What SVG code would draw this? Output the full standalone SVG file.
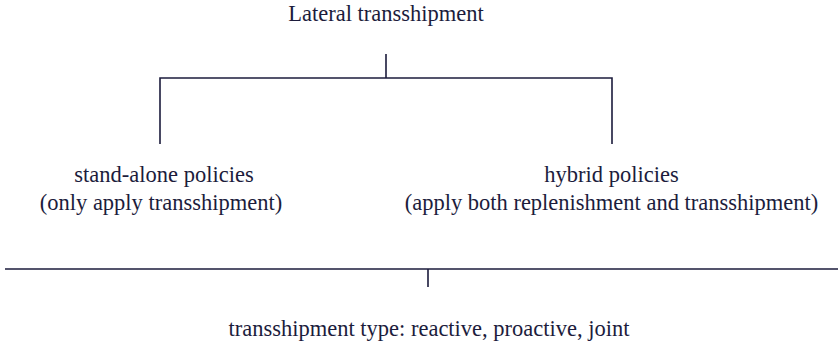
<svg xmlns="http://www.w3.org/2000/svg" width="838" height="347" viewBox="0 0 838 347">
<style>
text{font-family:"Liberation Serif","DejaVu Serif",serif;font-size:22.5px;fill:#1c1c3c;text-anchor:middle}
.c{stroke:#1c1c3c;stroke-width:1.6;fill:none}
</style>
<rect width="838" height="347" fill="#ffffff"/>
<g id="connectors">
<path class="c" d="M386 54V78M160 144V78H612V144"/>
<path class="c" d="M5 269H838M428 269V287"/>
</g>
<g id="root"><text x="386" y="21">Lateral transshipment</text></g>
<g id="standalone"><text x="164" y="182">stand-alone policies</text><text x="161" y="210">(only apply transshipment)</text></g>
<g id="hybrid"><text x="611.5" y="182">hybrid policies</text><text x="611.5" y="210">(apply both replenishment and transshipment)</text></g>
<g id="type"><text x="429" y="336">transshipment type: reactive, proactive, joint</text></g>
</svg>
